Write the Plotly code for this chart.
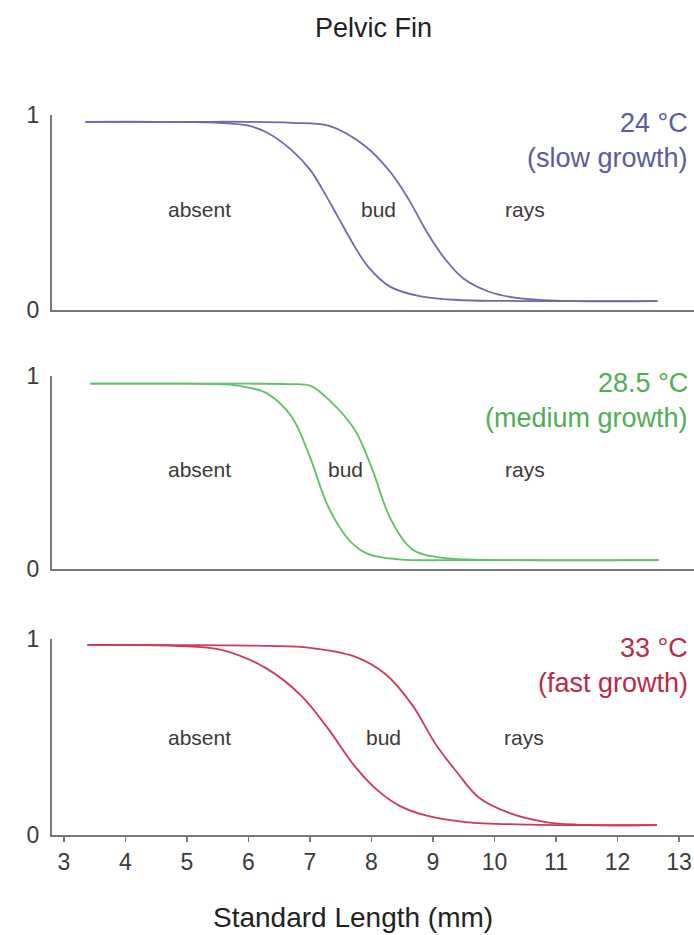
import plotly.graph_objects as go

# ---------------- data ----------------
panel_names = ["24 °C", "28.5 °C", "33 °C"]
panel_sub = ["(slow growth)", "(medium growth)", "(fast growth)"]
region_labels = ["absent", "bud", "rays"]
x_ticks = [3, 4, 5, 6, 7, 8, 9, 10, 11, 12, 13]

# 24 °C
slow_absent_x = [3.35, 4.5, 5.5, 6.0, 6.3, 6.7, 7.0, 7.2, 7.45, 7.7, 7.95, 8.3, 8.8, 9.5, 10.5, 12.65]
slow_absent_y = [0.965, 0.965, 0.96, 0.945, 0.91, 0.82, 0.72, 0.62, 0.48, 0.34, 0.22, 0.12, 0.07, 0.05, 0.046, 0.045]
slow_bud_x = [3.35, 5.0, 6.0, 6.7, 7.3, 7.9, 8.3, 8.6, 8.9, 9.2, 9.5, 9.9, 10.3, 11.0, 12.65]
slow_bud_y = [0.965, 0.965, 0.965, 0.96, 0.945, 0.84, 0.71, 0.57, 0.40, 0.26, 0.16, 0.095, 0.065, 0.048, 0.045]
slow_label_x = [5.2, 8.12, 10.49]

# 28.5 °C
med_absent_x = [3.43, 5.0, 5.7, 6.0, 6.3, 6.7, 7.0, 7.3, 7.65, 7.95, 8.45, 9.5, 12.67]
med_absent_y = [0.96, 0.96, 0.955, 0.94, 0.91, 0.79, 0.58, 0.32, 0.145, 0.077, 0.05, 0.046, 0.046]
med_bud_x = [3.43, 6.0, 6.65, 7.0, 7.33, 7.73, 8.02, 8.31, 8.67, 9.1, 9.53, 12.67]
med_bud_y = [0.96, 0.96, 0.958, 0.95, 0.87, 0.72, 0.51, 0.26, 0.10, 0.06, 0.05, 0.046]
med_label_x = [5.2, 7.57, 10.5]

# 33 °C
fast_absent_x = [3.38, 4.8, 5.56, 6.29, 6.86, 7.3, 7.73, 8.09, 8.45, 8.88, 9.53, 10.6, 12.64]
fast_absent_y = [0.97, 0.965, 0.945, 0.85, 0.71, 0.54, 0.35, 0.23, 0.15, 0.10, 0.066, 0.053, 0.05]
fast_bud_x = [3.38, 6.3, 7.0, 7.73, 8.23, 8.67, 9.03, 9.39, 9.75, 10.26, 10.83, 11.34, 12.64]
fast_bud_y = [0.97, 0.965, 0.955, 0.91, 0.82, 0.66, 0.47, 0.32, 0.19, 0.11, 0.066, 0.053, 0.05]
fast_label_x = [5.2, 8.2, 10.48]

# ---------------- style / layout ----------------
OFF = 0                      # body margin removed by post_script below
W, H = 694, 935
L = 52
PW = W - L
line_colors = ["#6d6aae", "#62bf68", "#cc3a58"]
text_colors = ["#5d5aa0", "#4fae55", "#bb2a45"]
panel_px = [(115, 310), (376, 569), (639, 835)]   # page px of y=1 and y=0
temp_px = [(123, 158), (383, 418), (648, 683)]
region_y = [0.513, 0.513, 0.495]
FONT = "Liberation Sans, Arial, sans-serif"
AXC = "#777777"


def px_x(p):
    return (p - OFF - L) / PW


def px_y(p):
    return 1 - (p - OFF) / H


panels = [
    (slow_absent_x, slow_absent_y, slow_bud_x, slow_bud_y, slow_label_x),
    (med_absent_x, med_absent_y, med_bud_x, med_bud_y, med_label_x),
    (fast_absent_x, fast_absent_y, fast_bud_x, fast_bud_y, fast_label_x),
]

fig = go.Figure()
annotations = []
for i, (ax_, ay_, bx_, by_, lx) in enumerate(panels):
    xa = "x" if i == 0 else f"x{i+1}"
    ya = "y" if i == 0 else f"y{i+1}"
    for xs, ys in ((ax_, ay_), (bx_, by_)):
        fig.add_trace(go.Scatter(x=xs, y=ys, mode="lines", xaxis=xa, yaxis=ya,
                                 line=dict(color=line_colors[i], width=1.8, shape="spline", smoothing=1.0),
                                 showlegend=False, hoverinfo="skip"))
    top, bot = panel_px[i]
    dom = [px_y(bot), px_y(top)]
    key = "" if i == 0 else str(i + 1)
    last = i == 2
    fig.update_layout(**{
        f"xaxis{key}": dict(domain=[0, 1], range=[2.805, 13.244], anchor=ya, automargin=False,
                            showline=True, linecolor=AXC, linewidth=2.4, showgrid=False, zeroline=False,
                            tickvals=x_ticks if last else [], ticktext=[str(t) for t in x_ticks] if last else [],
                            ticks="outside" if last else "", ticklen=5, tickwidth=1.5, tickcolor=AXC,
                            showticklabels=last,
                            tickfont=dict(family=FONT, size=23, color="#3a3a3a")),
        f"yaxis{key}": dict(domain=dom, range=[0, 1], anchor=xa, automargin=False,
                            showline=True, linecolor=AXC, linewidth=2, showgrid=False, zeroline=False,
                            tickvals=[0, 1], ticktext=["0", "1"], ticks="outside", ticklen=6,
                            tickcolor="rgba(0,0,0,0)",
                            tickfont=dict(family=FONT, size=23, color="#3a3a3a")),
    })
    for lab, x in zip(region_labels, lx):
        annotations.append(dict(x=x, y=region_y[i], xref=xa, yref=ya, text=lab, showarrow=False,
                                font=dict(family=FONT, size=21, color="#3a3a3a")))
    for txt, yp in ((panel_names[i], temp_px[i][0]), (panel_sub[i], temp_px[i][1])):
        annotations.append(dict(x=px_x(690), y=px_y(yp), xref="paper", yref="paper",
                                text=txt, showarrow=False, xanchor="right", yanchor="middle",
                                font=dict(family=FONT, size=27, color=text_colors[i])))

annotations.append(dict(x=px_x(374), y=px_y(28), xref="paper", yref="paper",
                        text="Pelvic Fin", showarrow=False, yanchor="middle",
                        font=dict(family=FONT, size=27, color="#222222")))
annotations.append(dict(x=px_x(353), y=px_y(917), xref="paper", yref="paper",
                        text="Standard Length (mm)", showarrow=False, yanchor="middle",
                        font=dict(family=FONT, size=28, color="#222222")))

fig.update_layout(width=W, height=H, margin=dict(l=L, r=0, t=0, b=0, autoexpand=False),
                  paper_bgcolor="white", plot_bgcolor="white", annotations=annotations)

fig.write_html("out.html",
               config={"displayModeBar": False, "staticPlot": True},
               post_script="document.body.style.margin='0px';document.body.style.overflow='hidden';")
